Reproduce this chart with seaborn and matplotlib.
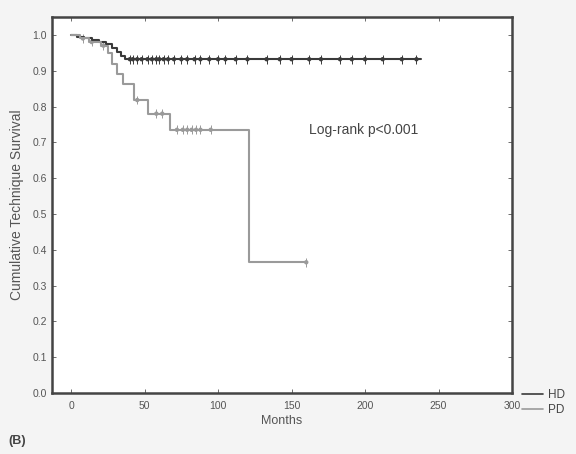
import numpy as np
import pandas as pd
import matplotlib
matplotlib.use("Agg")
import matplotlib.pyplot as plt
import seaborn as sns
from matplotlib.lines import Line2D

# Kaplan-Meier step data (months, cumulative survival)
hd_times = [0, 4, 9, 14, 19, 24, 28, 31, 34, 37, 238]
hd_surv = [1.0, 0.995, 0.99, 0.985, 0.98, 0.975, 0.962, 0.952, 0.942, 0.932, 0.932]
pd_times = [0, 6, 12, 20, 25, 28, 31, 35, 43, 52, 67, 121, 160]
pd_surv = [1.0, 0.99, 0.98, 0.97, 0.95, 0.92, 0.89, 0.862, 0.818, 0.78, 0.735, 0.365, 0.365]

# censored observations
hd_cens = [40, 42, 45, 48, 52, 55, 58, 60, 63, 66, 70, 75, 79, 84, 88, 94, 100,
           105, 112, 120, 133, 142, 150, 162, 170, 183, 191, 200, 212, 225, 235]
pd_cens = [8, 14, 22, 45, 58, 62, 72, 76, 79, 82, 85, 88, 95, 160]

x_ticks = [0, 50, 100, 150, 200, 250, 300]
y_ticks = [0.0, 0.1, 0.2, 0.3, 0.4, 0.5, 0.6, 0.7, 0.8, 0.9, 1.0]
groups = ["HD", "PD"]


def step_val(times, surv, t):
    idx = np.searchsorted(times, t, side="right") - 1
    return surv[idx]


sns.set_style("ticks")
plt.rcParams["font.family"] = ["Liberation Sans", "DejaVu Sans"]

df = pd.concat([
    pd.DataFrame({"Months": hd_times, "Surv": hd_surv, "Group": "HD"}),
    pd.DataFrame({"Months": pd_times, "Surv": pd_surv, "Group": "PD"}),
])
cens = pd.concat([
    pd.DataFrame({"Months": hd_cens,
                  "Surv": [step_val(hd_times, hd_surv, t) for t in hd_cens],
                  "Group": "HD"}),
    pd.DataFrame({"Months": pd_cens,
                  "Surv": [step_val(pd_times, pd_surv, t) for t in pd_cens],
                  "Group": "PD"}),
])

palette = {"HD": "#3a3a3a", "PD": "#9a9a9a"}

fig = plt.figure(figsize=(5.76, 4.54), dpi=100, facecolor="#f4f4f4")
ax = fig.add_axes([0.0903, 0.1344, 0.7986, 0.8282])
ax.set_facecolor("white")

sns.lineplot(data=df, x="Months", y="Surv", hue="Group", palette=palette,
             drawstyle="steps-post", estimator=None, sort=False, ax=ax,
             linewidth=1.5, legend=False)
sns.scatterplot(data=cens, x="Months", y="Surv", hue="Group", palette=palette,
                marker="|", s=40, linewidth=0.7, ax=ax, legend=False)
sns.scatterplot(data=cens, x="Months", y="Surv", hue="Group", palette=palette,
                marker="o", s=10, linewidth=0, ax=ax, legend=False)

ax.set_xlim(-13, 300)
ax.set_ylim(0, 1.05)
ax.set_xticks(x_ticks)
ax.set_xticklabels([str(v) for v in x_ticks])
ax.set_yticks(y_ticks)
ax.set_yticklabels([f"{v:.1f}" for v in y_ticks])
ax.tick_params(direction="in", top=True, right=True, labelsize=7.5,
               colors="#555555", length=3, width=0.6)
ax.tick_params(axis="x", pad=6)
for sp in ax.spines.values():
    sp.set_color("#444444")
    sp.set_linewidth(1.8)

ax.set_xlabel("Months", fontsize=9, color="#555555", labelpad=3)
ax.set_ylabel("Cumulative Technique Survival", fontsize=10, color="#555555",
              labelpad=6)

ax.text(162, 0.735, "Log-rank p<0.001", fontsize=10, color="#444444",
        va="center", ha="left")

handles = [Line2D([0], [0], color=palette[g], lw=1.2) for g in groups]
fig.legend(handles, groups, loc="upper left", bbox_to_anchor=(0.907, 0.143),
           frameon=False, fontsize=8.5, handlelength=1.7, handletextpad=0.5,
           labelspacing=0.25, borderpad=0.0, borderaxespad=0.0,
           labelcolor="#444444")

fig.text(0.015, 0.022, "(B)", fontsize=9, fontweight="bold", color="#444444")

fig.savefig("out.png", dpi=100, facecolor=fig.get_facecolor())
